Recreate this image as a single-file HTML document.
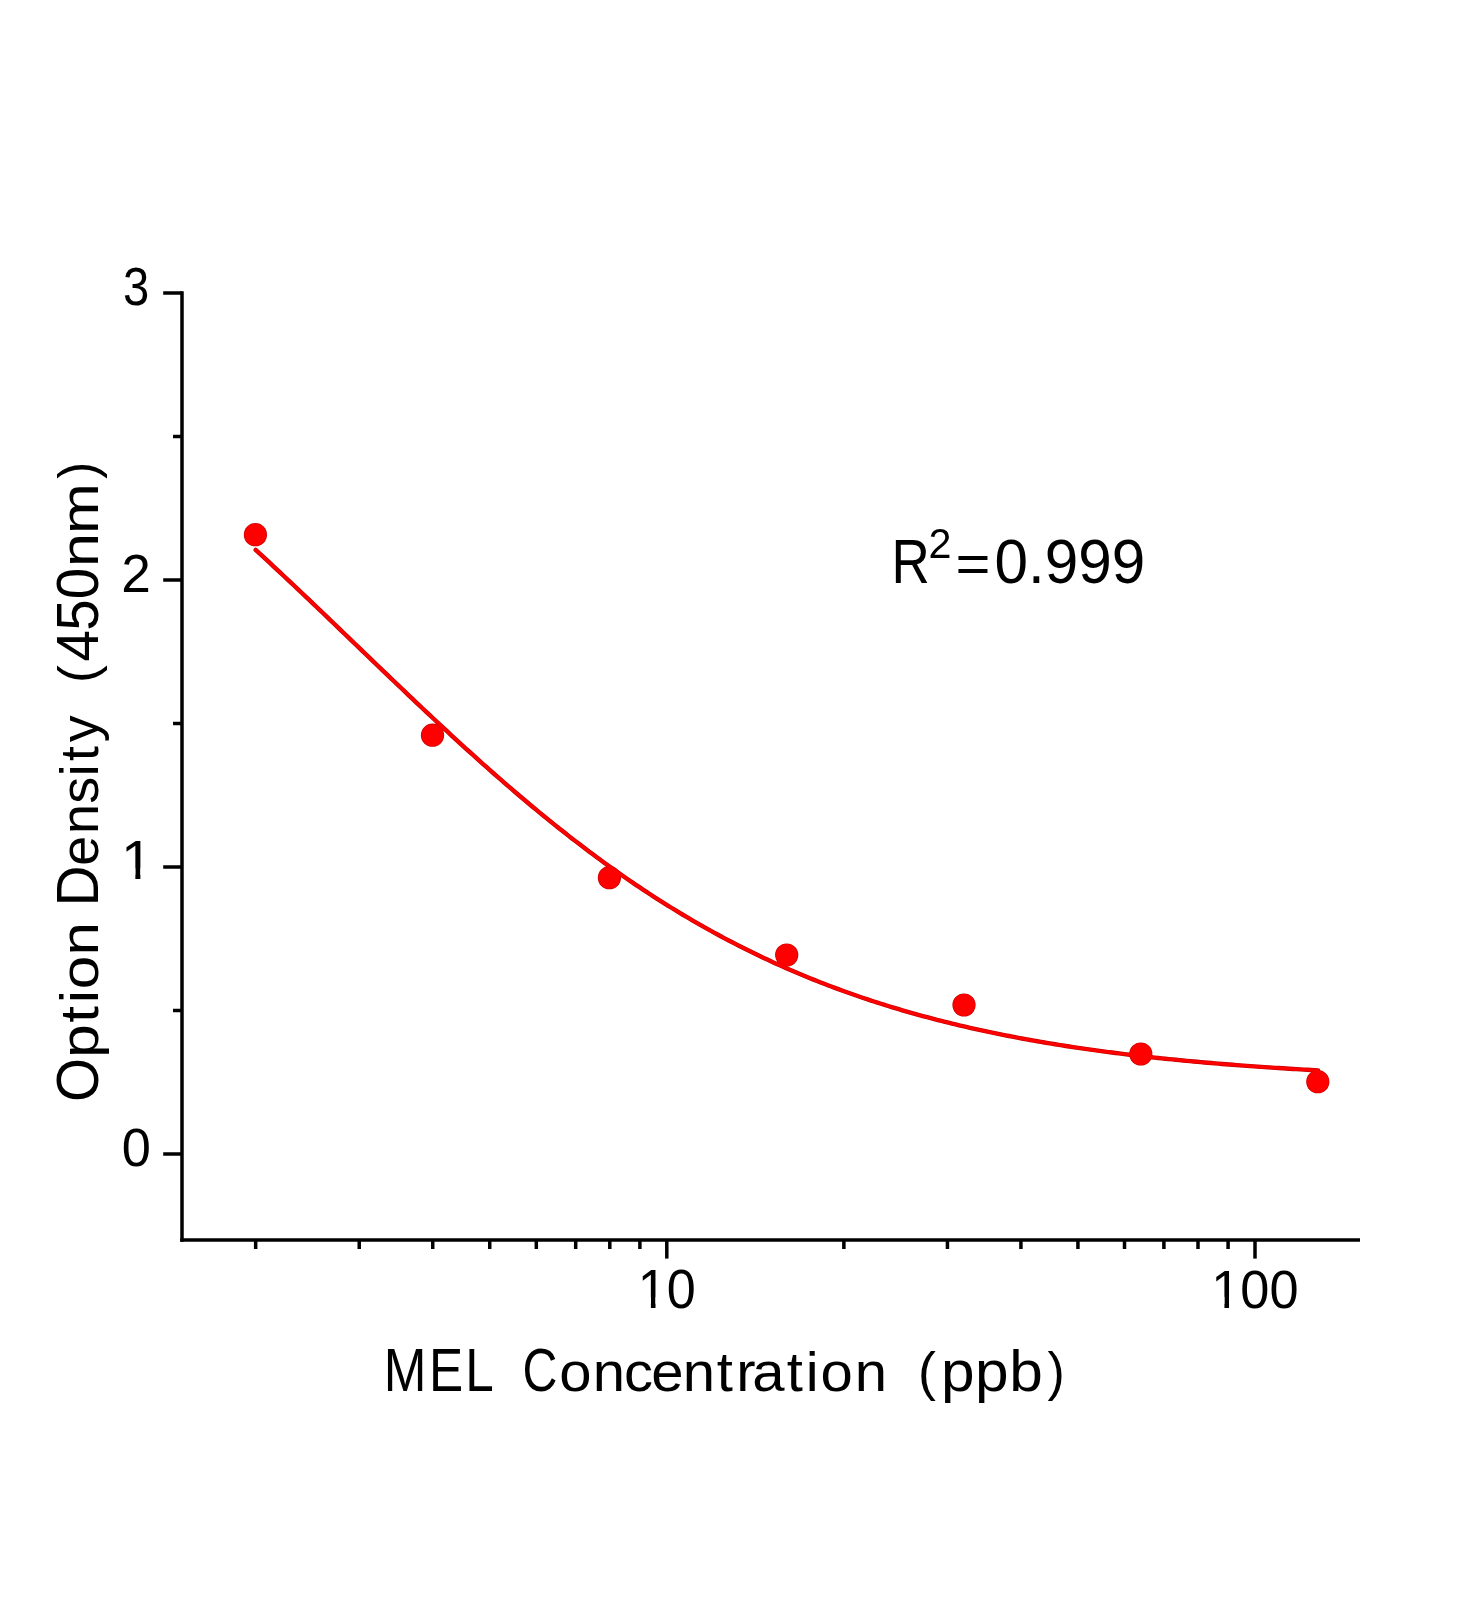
<!DOCTYPE html>
<html><head><meta charset="utf-8"><title>MEL standard curve</title><style>
html,body{margin:0;padding:0;background:#fff;}
svg{display:block;}
text{font-family:"Liberation Sans",sans-serif;fill:#000;}
.g{will-change:transform;}
</style></head><body>
<svg width="1472" height="1600" viewBox="0 0 1472 1600">
<defs><clipPath id="one" clipPathUnits="userSpaceOnUse">
<rect x="-100" y="-300" width="1000" height="280.000"/>
<rect x="25.146" y="-300" width="8.838" height="600"/>
<rect x="52.232" y="-300" width="1000" height="600"/>
</clipPath></defs>
<rect width="1472" height="1600" fill="#fff"/>
<line x1="182" y1="291.25" x2="182" y2="1241.75" stroke="#000" stroke-width="3.5"/>
<line x1="180.25" y1="1240" x2="1360" y2="1240" stroke="#000" stroke-width="3.5"/>
<line x1="163.2" y1="1154.00" x2="182" y2="1154.00" stroke="#000" stroke-width="3.5"/>
<line x1="163.2" y1="867.00" x2="182" y2="867.00" stroke="#000" stroke-width="3.5"/>
<line x1="163.2" y1="580.00" x2="182" y2="580.00" stroke="#000" stroke-width="3.5"/>
<line x1="163.2" y1="293.00" x2="182" y2="293.00" stroke="#000" stroke-width="3.5"/>
<line x1="173" y1="1010.50" x2="182" y2="1010.50" stroke="#000" stroke-width="3.5"/>
<line x1="173" y1="723.50" x2="182" y2="723.50" stroke="#000" stroke-width="3.5"/>
<line x1="173" y1="436.50" x2="182" y2="436.50" stroke="#000" stroke-width="3.5"/>
<line x1="666.80" y1="1240" x2="666.80" y2="1258.6" stroke="#000" stroke-width="3.5"/>
<line x1="1255.00" y1="1240" x2="1255.00" y2="1258.6" stroke="#000" stroke-width="3.5"/>
<line x1="255.67" y1="1240" x2="255.67" y2="1249" stroke="#000" stroke-width="3.5"/>
<line x1="359.24" y1="1240" x2="359.24" y2="1249" stroke="#000" stroke-width="3.5"/>
<line x1="432.73" y1="1240" x2="432.73" y2="1249" stroke="#000" stroke-width="3.5"/>
<line x1="489.73" y1="1240" x2="489.73" y2="1249" stroke="#000" stroke-width="3.5"/>
<line x1="536.31" y1="1240" x2="536.31" y2="1249" stroke="#000" stroke-width="3.5"/>
<line x1="575.69" y1="1240" x2="575.69" y2="1249" stroke="#000" stroke-width="3.5"/>
<line x1="609.80" y1="1240" x2="609.80" y2="1249" stroke="#000" stroke-width="3.5"/>
<line x1="639.89" y1="1240" x2="639.89" y2="1249" stroke="#000" stroke-width="3.5"/>
<line x1="843.87" y1="1240" x2="843.87" y2="1249" stroke="#000" stroke-width="3.5"/>
<line x1="947.44" y1="1240" x2="947.44" y2="1249" stroke="#000" stroke-width="3.5"/>
<line x1="1020.93" y1="1240" x2="1020.93" y2="1249" stroke="#000" stroke-width="3.5"/>
<line x1="1077.93" y1="1240" x2="1077.93" y2="1249" stroke="#000" stroke-width="3.5"/>
<line x1="1124.51" y1="1240" x2="1124.51" y2="1249" stroke="#000" stroke-width="3.5"/>
<line x1="1163.89" y1="1240" x2="1163.89" y2="1249" stroke="#000" stroke-width="3.5"/>
<line x1="1198.00" y1="1240" x2="1198.00" y2="1249" stroke="#000" stroke-width="3.5"/>
<line x1="1228.09" y1="1240" x2="1228.09" y2="1249" stroke="#000" stroke-width="3.5"/>
<path d="M255.67,549.88 L259.22,553.14 L262.77,556.41 L266.33,559.69 L269.88,562.98 L273.43,566.28 L276.98,569.58 L280.54,572.90 L284.09,576.23 L287.64,579.56 L291.20,582.90 L294.75,586.25 L298.30,589.61 L301.86,592.98 L305.41,596.35 L308.96,599.72 L312.52,603.10 L316.07,606.49 L319.62,609.88 L323.18,613.28 L326.73,616.68 L330.28,620.09 L333.84,623.49 L337.39,626.90 L340.94,630.32 L344.49,633.73 L348.05,637.15 L351.60,640.56 L355.15,643.98 L358.71,647.40 L362.26,650.82 L365.81,654.23 L369.37,657.65 L372.92,661.06 L376.47,664.48 L380.03,667.89 L383.58,671.30 L387.13,674.70 L390.69,678.10 L394.24,681.50 L397.79,684.89 L401.35,688.28 L404.90,691.67 L408.45,695.04 L412.00,698.42 L415.56,701.78 L419.11,705.14 L422.66,708.49 L426.22,711.84 L429.77,715.18 L433.32,718.50 L436.88,721.82 L440.43,725.13 L443.98,728.44 L447.54,731.73 L451.09,735.01 L454.64,738.28 L458.20,741.54 L461.75,744.79 L465.30,748.03 L468.86,751.25 L472.41,754.47 L475.96,757.67 L479.51,760.86 L483.07,764.03 L486.62,767.20 L490.17,770.35 L493.73,773.48 L497.28,776.60 L500.83,779.71 L504.39,782.80 L507.94,785.87 L511.49,788.93 L515.05,791.98 L518.60,795.01 L522.15,798.02 L525.71,801.02 L529.26,804.00 L532.81,806.96 L536.37,809.91 L539.92,812.84 L543.47,815.75 L547.03,818.64 L550.58,821.52 L554.13,824.37 L557.68,827.21 L561.24,830.04 L564.79,832.84 L568.34,835.62 L571.90,838.39 L575.45,841.13 L579.00,843.86 L582.56,846.57 L586.11,849.26 L589.66,851.93 L593.22,854.58 L596.77,857.21 L600.32,859.82 L603.88,862.41 L607.43,864.98 L610.98,867.53 L614.54,870.06 L618.09,872.57 L621.64,875.05 L625.19,877.52 L628.75,879.97 L632.30,882.40 L635.85,884.81 L639.41,887.20 L642.96,889.56 L646.51,891.91 L650.07,894.23 L653.62,896.54 L657.17,898.82 L660.73,901.09 L664.28,903.33 L667.83,905.55 L671.39,907.75 L674.94,909.94 L678.49,912.10 L682.05,914.24 L685.60,916.36 L689.15,918.46 L692.70,920.54 L696.26,922.59 L699.81,924.63 L703.36,926.65 L706.92,928.65 L710.47,930.63 L714.02,932.58 L717.58,934.52 L721.13,936.44 L724.68,938.34 L728.24,940.22 L731.79,942.07 L735.34,943.91 L738.90,945.73 L742.45,947.53 L746.00,949.31 L749.56,951.08 L753.11,952.82 L756.66,954.54 L760.21,956.25 L763.77,957.93 L767.32,959.60 L770.87,961.25 L774.43,962.88 L777.98,964.49 L781.53,966.08 L785.09,967.65 L788.64,969.21 L792.19,970.75 L795.75,972.27 L799.30,973.77 L802.85,975.26 L806.41,976.73 L809.96,978.18 L813.51,979.61 L817.07,981.03 L820.62,982.43 L824.17,983.81 L827.72,985.18 L831.28,986.53 L834.83,987.86 L838.38,989.18 L841.94,990.48 L845.49,991.77 L849.04,993.04 L852.60,994.29 L856.15,995.53 L859.70,996.75 L863.26,997.96 L866.81,999.15 L870.36,1000.33 L873.92,1001.49 L877.47,1002.64 L881.02,1003.77 L884.58,1004.89 L888.13,1006.00 L891.68,1007.09 L895.23,1008.16 L898.79,1009.23 L902.34,1010.28 L905.89,1011.31 L909.45,1012.33 L913.00,1013.34 L916.55,1014.34 L920.11,1015.32 L923.66,1016.29 L927.21,1017.24 L930.77,1018.19 L934.32,1019.12 L937.87,1020.04 L941.43,1020.95 L944.98,1021.84 L948.53,1022.72 L952.09,1023.59 L955.64,1024.45 L959.19,1025.30 L962.74,1026.14 L966.30,1026.96 L969.85,1027.78 L973.40,1028.58 L976.96,1029.37 L980.51,1030.15 L984.06,1030.92 L987.62,1031.68 L991.17,1032.43 L994.72,1033.17 L998.28,1033.90 L1001.83,1034.62 L1005.38,1035.33 L1008.94,1036.02 L1012.49,1036.71 L1016.04,1037.39 L1019.60,1038.06 L1023.15,1038.72 L1026.70,1039.38 L1030.25,1040.02 L1033.81,1040.65 L1037.36,1041.28 L1040.91,1041.89 L1044.47,1042.50 L1048.02,1043.10 L1051.57,1043.69 L1055.13,1044.27 L1058.68,1044.84 L1062.23,1045.41 L1065.79,1045.97 L1069.34,1046.52 L1072.89,1047.06 L1076.45,1047.59 L1080.00,1048.12 L1083.55,1048.64 L1087.11,1049.15 L1090.66,1049.65 L1094.21,1050.15 L1097.76,1050.64 L1101.32,1051.12 L1104.87,1051.60 L1108.42,1052.06 L1111.98,1052.53 L1115.53,1052.98 L1119.08,1053.43 L1122.64,1053.87 L1126.19,1054.31 L1129.74,1054.74 L1133.30,1055.16 L1136.85,1055.58 L1140.40,1055.99 L1143.96,1056.39 L1147.51,1056.79 L1151.06,1057.19 L1154.62,1057.57 L1158.17,1057.96 L1161.72,1058.33 L1165.27,1058.70 L1168.83,1059.07 L1172.38,1059.43 L1175.93,1059.78 L1179.49,1060.13 L1183.04,1060.48 L1186.59,1060.82 L1190.15,1061.15 L1193.70,1061.48 L1197.25,1061.80 L1200.81,1062.12 L1204.36,1062.44 L1207.91,1062.75 L1211.47,1063.05 L1215.02,1063.35 L1218.57,1063.65 L1222.13,1063.94 L1225.68,1064.23 L1229.23,1064.51 L1232.79,1064.79 L1236.34,1065.07 L1239.89,1065.34 L1243.44,1065.61 L1247.00,1065.87 L1250.55,1066.13 L1254.10,1066.38 L1257.66,1066.64 L1261.21,1066.88 L1264.76,1067.13 L1268.32,1067.37 L1271.87,1067.60 L1275.42,1067.84 L1278.98,1068.07 L1282.53,1068.29 L1286.08,1068.52 L1289.64,1068.74 L1293.19,1068.95 L1296.74,1069.16 L1300.30,1069.37 L1303.85,1069.58 L1307.40,1069.78 L1310.95,1069.98 L1314.51,1070.18 L1318.06,1070.38" fill="none" stroke="#C80000" stroke-width="4.4" stroke-linecap="round" stroke-linejoin="round"/>
<circle cx="255.4" cy="534.7" r="11.6" fill="#C80000"/>
<circle cx="432.5" cy="735.2" r="11.6" fill="#C80000"/>
<circle cx="609.4" cy="877.7" r="11.6" fill="#C80000"/>
<circle cx="786.7" cy="955" r="11.6" fill="#C80000"/>
<circle cx="964.0" cy="1005" r="11.6" fill="#C80000"/>
<circle cx="1140.8" cy="1054" r="11.6" fill="#C80000"/>
<circle cx="1317.8" cy="1081.7" r="11.6" fill="#C80000"/>
<path d="M255.67,549.88 L259.22,553.14 L262.77,556.41 L266.33,559.69 L269.88,562.98 L273.43,566.28 L276.98,569.58 L280.54,572.90 L284.09,576.23 L287.64,579.56 L291.20,582.90 L294.75,586.25 L298.30,589.61 L301.86,592.98 L305.41,596.35 L308.96,599.72 L312.52,603.10 L316.07,606.49 L319.62,609.88 L323.18,613.28 L326.73,616.68 L330.28,620.09 L333.84,623.49 L337.39,626.90 L340.94,630.32 L344.49,633.73 L348.05,637.15 L351.60,640.56 L355.15,643.98 L358.71,647.40 L362.26,650.82 L365.81,654.23 L369.37,657.65 L372.92,661.06 L376.47,664.48 L380.03,667.89 L383.58,671.30 L387.13,674.70 L390.69,678.10 L394.24,681.50 L397.79,684.89 L401.35,688.28 L404.90,691.67 L408.45,695.04 L412.00,698.42 L415.56,701.78 L419.11,705.14 L422.66,708.49 L426.22,711.84 L429.77,715.18 L433.32,718.50 L436.88,721.82 L440.43,725.13 L443.98,728.44 L447.54,731.73 L451.09,735.01 L454.64,738.28 L458.20,741.54 L461.75,744.79 L465.30,748.03 L468.86,751.25 L472.41,754.47 L475.96,757.67 L479.51,760.86 L483.07,764.03 L486.62,767.20 L490.17,770.35 L493.73,773.48 L497.28,776.60 L500.83,779.71 L504.39,782.80 L507.94,785.87 L511.49,788.93 L515.05,791.98 L518.60,795.01 L522.15,798.02 L525.71,801.02 L529.26,804.00 L532.81,806.96 L536.37,809.91 L539.92,812.84 L543.47,815.75 L547.03,818.64 L550.58,821.52 L554.13,824.37 L557.68,827.21 L561.24,830.04 L564.79,832.84 L568.34,835.62 L571.90,838.39 L575.45,841.13 L579.00,843.86 L582.56,846.57 L586.11,849.26 L589.66,851.93 L593.22,854.58 L596.77,857.21 L600.32,859.82 L603.88,862.41 L607.43,864.98 L610.98,867.53 L614.54,870.06 L618.09,872.57 L621.64,875.05 L625.19,877.52 L628.75,879.97 L632.30,882.40 L635.85,884.81 L639.41,887.20 L642.96,889.56 L646.51,891.91 L650.07,894.23 L653.62,896.54 L657.17,898.82 L660.73,901.09 L664.28,903.33 L667.83,905.55 L671.39,907.75 L674.94,909.94 L678.49,912.10 L682.05,914.24 L685.60,916.36 L689.15,918.46 L692.70,920.54 L696.26,922.59 L699.81,924.63 L703.36,926.65 L706.92,928.65 L710.47,930.63 L714.02,932.58 L717.58,934.52 L721.13,936.44 L724.68,938.34 L728.24,940.22 L731.79,942.07 L735.34,943.91 L738.90,945.73 L742.45,947.53 L746.00,949.31 L749.56,951.08 L753.11,952.82 L756.66,954.54 L760.21,956.25 L763.77,957.93 L767.32,959.60 L770.87,961.25 L774.43,962.88 L777.98,964.49 L781.53,966.08 L785.09,967.65 L788.64,969.21 L792.19,970.75 L795.75,972.27 L799.30,973.77 L802.85,975.26 L806.41,976.73 L809.96,978.18 L813.51,979.61 L817.07,981.03 L820.62,982.43 L824.17,983.81 L827.72,985.18 L831.28,986.53 L834.83,987.86 L838.38,989.18 L841.94,990.48 L845.49,991.77 L849.04,993.04 L852.60,994.29 L856.15,995.53 L859.70,996.75 L863.26,997.96 L866.81,999.15 L870.36,1000.33 L873.92,1001.49 L877.47,1002.64 L881.02,1003.77 L884.58,1004.89 L888.13,1006.00 L891.68,1007.09 L895.23,1008.16 L898.79,1009.23 L902.34,1010.28 L905.89,1011.31 L909.45,1012.33 L913.00,1013.34 L916.55,1014.34 L920.11,1015.32 L923.66,1016.29 L927.21,1017.24 L930.77,1018.19 L934.32,1019.12 L937.87,1020.04 L941.43,1020.95 L944.98,1021.84 L948.53,1022.72 L952.09,1023.59 L955.64,1024.45 L959.19,1025.30 L962.74,1026.14 L966.30,1026.96 L969.85,1027.78 L973.40,1028.58 L976.96,1029.37 L980.51,1030.15 L984.06,1030.92 L987.62,1031.68 L991.17,1032.43 L994.72,1033.17 L998.28,1033.90 L1001.83,1034.62 L1005.38,1035.33 L1008.94,1036.02 L1012.49,1036.71 L1016.04,1037.39 L1019.60,1038.06 L1023.15,1038.72 L1026.70,1039.38 L1030.25,1040.02 L1033.81,1040.65 L1037.36,1041.28 L1040.91,1041.89 L1044.47,1042.50 L1048.02,1043.10 L1051.57,1043.69 L1055.13,1044.27 L1058.68,1044.84 L1062.23,1045.41 L1065.79,1045.97 L1069.34,1046.52 L1072.89,1047.06 L1076.45,1047.59 L1080.00,1048.12 L1083.55,1048.64 L1087.11,1049.15 L1090.66,1049.65 L1094.21,1050.15 L1097.76,1050.64 L1101.32,1051.12 L1104.87,1051.60 L1108.42,1052.06 L1111.98,1052.53 L1115.53,1052.98 L1119.08,1053.43 L1122.64,1053.87 L1126.19,1054.31 L1129.74,1054.74 L1133.30,1055.16 L1136.85,1055.58 L1140.40,1055.99 L1143.96,1056.39 L1147.51,1056.79 L1151.06,1057.19 L1154.62,1057.57 L1158.17,1057.96 L1161.72,1058.33 L1165.27,1058.70 L1168.83,1059.07 L1172.38,1059.43 L1175.93,1059.78 L1179.49,1060.13 L1183.04,1060.48 L1186.59,1060.82 L1190.15,1061.15 L1193.70,1061.48 L1197.25,1061.80 L1200.81,1062.12 L1204.36,1062.44 L1207.91,1062.75 L1211.47,1063.05 L1215.02,1063.35 L1218.57,1063.65 L1222.13,1063.94 L1225.68,1064.23 L1229.23,1064.51 L1232.79,1064.79 L1236.34,1065.07 L1239.89,1065.34 L1243.44,1065.61 L1247.00,1065.87 L1250.55,1066.13 L1254.10,1066.38 L1257.66,1066.64 L1261.21,1066.88 L1264.76,1067.13 L1268.32,1067.37 L1271.87,1067.60 L1275.42,1067.84 L1278.98,1068.07 L1282.53,1068.29 L1286.08,1068.52 L1289.64,1068.74 L1293.19,1068.95 L1296.74,1069.16 L1300.30,1069.37 L1303.85,1069.58 L1307.40,1069.78 L1310.95,1069.98 L1314.51,1070.18 L1318.06,1070.38" fill="none" stroke="#FF0000" stroke-width="3.0" stroke-linecap="round" stroke-linejoin="round"/>
<circle cx="255.4" cy="534.7" r="10.9" fill="#FF0000"/>
<circle cx="432.5" cy="735.2" r="10.9" fill="#FF0000"/>
<circle cx="609.4" cy="877.7" r="10.9" fill="#FF0000"/>
<circle cx="786.7" cy="955" r="10.9" fill="#FF0000"/>
<circle cx="964.0" cy="1005" r="10.9" fill="#FF0000"/>
<circle cx="1140.8" cy="1054" r="10.9" fill="#FF0000"/>
<circle cx="1317.8" cy="1081.7" r="10.9" fill="#FF0000"/>
<g class="g">
<text transform="translate(123.03,305.00) scale(0.4716,0.5434)" font-size="100">3</text>
<text transform="translate(121.34,592.30) scale(0.5319,0.5434)" font-size="100">2</text>
<text transform="translate(121.01,879.30) scale(0.5705,0.5580)" font-size="100" clip-path="url(#one)">1</text>
<text transform="translate(121.71,1166.30) scale(0.5236,0.5450)" font-size="100">0</text>
<text transform="translate(637.79,1308.10) scale(0.5214,0.5460)" font-size="100" clip-path="url(#one)">10</text>
<text transform="translate(1211.26,1308.00) scale(0.5235,0.5460)" font-size="100" clip-path="url(#one)">100</text>
<text transform="translate(0,1391.30) scale(0.5121,0.6150)" font-size="100" x="749.30 837.56 908.69">MEL</text>
<text transform="translate(0,1391.30) scale(0.4838,0.6150)" font-size="100" x="1079.96">C</text>
<text transform="translate(0,1391.30) scale(0.5804,0.5550)" font-size="100" x="963.45 1021.34 1075.07 1122.08 1176.32 1234.83 1268.51 1295.96 1355.61 1388.46 1413.58 1472.50">oncentration</text>
<text transform="translate(0,1389.80) scale(0.5371,0.5400)" font-size="100" x="1709.12">(</text>
<text transform="translate(0,1391.30) scale(0.6037,0.5700)" font-size="100" x="1558.53 1615.18 1671.92">ppb</text>
<text transform="translate(0,1389.80) scale(0.5181,0.5400)" font-size="100" x="2022.04">)</text>
<text transform="translate(97.60,1200.00) rotate(-90) scale(0.5656,0.5890)" font-size="100" x="173.30">O</text>
<text transform="translate(97.60,1200.00) rotate(-90) scale(0.6012,0.5380)" font-size="100" x="236.70 294.94 327.17 350.42 406.72">ption</text>
<text transform="translate(97.60,1200.00) rotate(-90) scale(0.5620,0.5890)" font-size="100" x="522.51">D</text>
<text transform="translate(97.60,1200.00) rotate(-90) scale(0.5394,0.5380)" font-size="100" x="619.79 678.34 734.52 785.37 813.76 848.71">ensity</text>
<text transform="translate(95.80,1200.00) rotate(-90) scale(0.5333,0.5360)" font-size="100" x="969.31">(</text>
<text transform="translate(97.60,1200.00) rotate(-90) scale(0.5640,0.5840)" font-size="100" x="954.98 1009.34 1065.25">450</text>
<text transform="translate(97.60,1200.00) rotate(-90) scale(0.6094,0.5380)" font-size="100" x="1038.66 1092.89">nm</text>
<text transform="translate(95.80,1200.00) rotate(-90) scale(0.5029,0.5360)" font-size="100" x="1434.05">)</text>
<text transform="translate(891.53,582.50) scale(0.5300,0.6340)" font-size="100">R</text>
<text transform="translate(928.43,558.40) scale(0.4132,0.4320)" font-size="100">2</text>
<text transform="translate(955.61,581.98) scale(0.5979,0.5302)" font-size="100">=</text>
<text transform="translate(994.59,583.10) scale(0.6025,0.6360)" font-size="100">0.999</text>
</g>
</svg></body></html>
